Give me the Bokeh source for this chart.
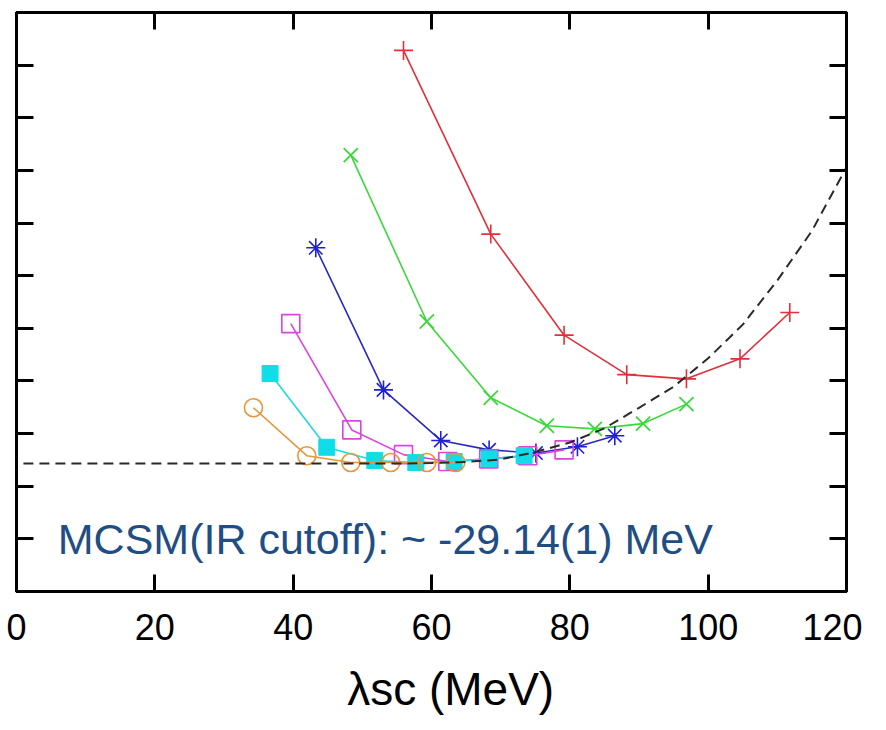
from bokeh.plotting import figure
from bokeh.models import LinearAxis, FixedTicker, Label, Range1d
from bokeh.embed import file_html
from bokeh.resources import INLINE

# ---- data ----
red_x = [55.95, 68.57, 79.17, 88.23, 96.86, 104.6, 111.8]
red_y = [-28.372, -28.721, -28.913, -28.988, -28.996, -28.958, -28.870]

green_x = [48.33, 59.32, 68.57, 76.67, 83.61, 90.59, 96.86]
green_y = [-28.571, -28.887, -29.032, -29.085, -29.091, -29.081, -29.044]

blue_x = [43.27, 53.06, 61.34, 68.33, 75.10, 81.10, 86.50]
blue_y = [-28.747, -29.017, -29.113, -29.131, -29.137, -29.125, -29.104]

magenta_x = [39.66, 48.48, 55.95, 62.36, 68.28, 73.92, 79.17]
magenta_y = [-28.891, -29.093, -29.140, -29.153, -29.148, -29.142, -29.131]

cyan_x = [36.66, 44.86, 51.80, 57.73, 63.27, 68.33, 73.39]
cyan_y = [-28.986, -29.126, -29.151, -29.155, -29.153, -29.148, -29.142]

orange_x = [34.26, 41.97, 48.33, 54.11, 59.32, 63.51]
orange_y = [-29.051, -29.142, -29.155, -29.155, -29.155, -29.155]

fit_x = [1, 20, 40, 55, 60, 65, 70, 75, 80, 85, 90, 95, 100, 105, 110, 115, 120]
fit_y = [-29.157, -29.157, -29.157, -29.157, -29.156, -29.154, -29.149, -29.135,
         -29.117, -29.090, -29.051, -29.011, -28.957, -28.893, -28.809, -28.715, -28.594]

x_ticks = [0, 20, 40, 60, 80, 100, 120]
y_ticks = [-29.3, -29.2, -29.1, -29.0, -28.9, -28.8, -28.7, -28.6, -28.5, -28.4]

annotation = "MCSM(IR cutoff):  ~ -29.14(1) MeV"
x_label = "λsc (MeV)"

p = figure(width=862, height=730, x_range=Range1d(0, 120),
           y_range=Range1d(-29.4, -28.3), output_backend="svg",
           toolbar_location=None, x_axis_location=None, y_axis_location=None,
           min_border_left=16, min_border_top=12, min_border_right=16, min_border_bottom=139)
p.xgrid.visible = False
p.ygrid.visible = False
p.outline_line_color = "black"
p.outline_line_width = 3
p.background_fill_color = "white"
p.border_fill_color = "white"


def make_axis(ticks, show_labels):
    ax = LinearAxis(ticker=FixedTicker(ticks=ticks))
    ax.major_tick_in = 17
    ax.major_tick_out = 0
    ax.minor_tick_in = 0
    ax.minor_tick_out = 0
    ax.major_tick_line_width = 3
    ax.major_tick_line_color = "black"
    ax.axis_line_width = 3
    ax.axis_line_color = "black"
    if show_labels:
        ax.major_label_text_font = "Liberation Sans"
        ax.major_label_text_font_size = "36px"
        ax.major_label_text_color = "black"
        ax.major_label_standoff = 22
        # leading no-break spaces nudge the centred title right, as in the original
        ax.axis_label = "\u00a0\u00a0\u00a0" + x_label
        ax.axis_label_text_font = "Liberation Sans"
        ax.axis_label_text_font_size = "46px"
        ax.axis_label_text_font_style = "normal"
        ax.axis_label_text_color = "black"
        ax.axis_label_standoff = 20
    else:
        ax.major_label_text_font_size = "1px"
        ax.major_label_text_color = None
        ax.major_label_standoff = 0
    return ax


p.add_layout(make_axis(x_ticks, True), "below")
p.add_layout(make_axis(x_ticks, False), "above")
p.add_layout(make_axis(y_ticks, False), "left")
p.add_layout(make_axis(y_ticks, False), "right")

lw = 1.6
# red +
p.line(red_x, red_y, line_color="#E0303A", line_width=lw)
p.scatter(red_x, red_y, marker="cross", size=19, line_color="#E0303A", line_width=1.6)
# green x
p.line(green_x, green_y, line_color="#3AD83A", line_width=lw)
p.scatter(green_x, green_y, marker="x", size=20, line_color="#3AD83A", line_width=1.8)
# blue asterisk
p.line(blue_x, blue_y, line_color="#2A2AB8", line_width=lw)
p.scatter(blue_x, blue_y, marker="asterisk", size=19, line_color="#2020D8", line_width=1.6)
# magenta open squares
p.line(magenta_x, magenta_y, line_color="#DD44DD", line_width=lw)
p.scatter(magenta_x, magenta_y, marker="square", size=18, line_color="#DD44DD",
          fill_color=None, line_width=1.6)
# cyan filled squares
p.line(cyan_x, cyan_y, line_color="#22D8E0", line_width=lw)
p.scatter(cyan_x, cyan_y, marker="square", size=16, line_color="#10DDE8",
          fill_color="#10DDE8", line_width=1)
# orange open circles
p.line(orange_x, orange_y, line_color="#E8963A", line_width=lw)
p.scatter(orange_x, orange_y, marker="circle", size=18, line_color="#E8963A",
          fill_color=None, line_width=1.6)
# dashed fit curve
p.line(fit_x, fit_y, line_color="#2a2a2a", line_width=2, line_dash="10 6")

p.add_layout(Label(x=5.97, y=-29.30, text=annotation, text_font="Liberation Sans",
                   text_font_size="43px", text_color="#1F4E85", text_baseline="middle"))

open("out.html", "w").write(file_html(p, INLINE))
